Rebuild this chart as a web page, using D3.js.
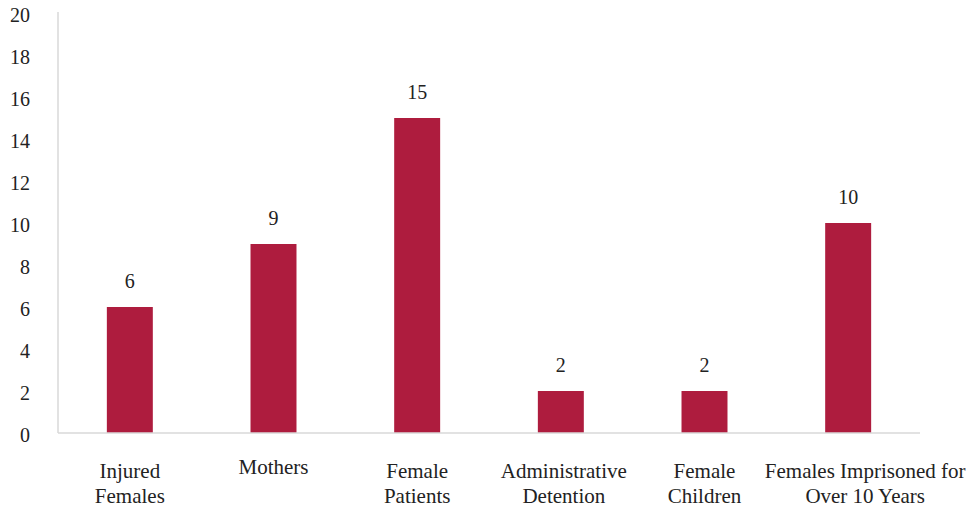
<!DOCTYPE html>
<html>
<head>
<meta charset="utf-8">
<script src="https://cdn.jsdelivr.net/npm/d3@7"></script>
<style>
  body { margin: 0; background: #fff; }
</style>
</head>
<body>
<svg id="chart" width="972" height="508"></svg>
<script>
// data
var categories = [
  ["Injured", "Females"],
  ["Mothers"],
  ["Female", "Patients"],
  ["Administrative", "Detention"],
  ["Female", "Children"],
  ["Females Imprisoned for", "Over 10 Years"]
];
var values = [6, 9, 15, 2, 2, 10];
var yTicks = [0, 2, 4, 6, 8, 10, 12, 14, 16, 18, 20];

var serif = "'Liberation Serif', 'Times New Roman', Times, 'DejaVu Serif', serif";

var svg = d3.select("#chart"),
    plotLeft = 58,
    plotRight = 920,
    plotTop = 13,
    plotBottom = 433;

var xScale = d3.scaleBand()
    .domain(d3.range(values.length))
    .range([plotLeft, plotRight])
    .paddingInner(0.68)
    .paddingOuter(0.34);

var yScale = d3.scaleLinear()
    .domain([0, 20])
    .range([plotBottom, plotTop]);

// y axis: labels only plus the grey line
var yAxis = svg.append("g")
    .attr("transform", "translate(" + plotLeft + ",0)")
    .call(d3.axisLeft(yScale).tickValues(yTicks).tickSize(0).tickPadding(28));
yAxis.select(".domain").remove();
yAxis.attr("font-family", serif).attr("font-size", 20);
yAxis.selectAll("text")
    .style("font-family", serif)
    .style("font-size", "20px")
    .style("fill", "#222")
    .attr("dy", "0.4em");

svg.append("line")
    .attr("x1", plotLeft).attr("x2", plotLeft)
    .attr("y1", plotTop - 1).attr("y2", plotBottom)
    .style("stroke", "#d9d9d9")
    .style("stroke-width", 1.5);

// bars
svg.append("g")
    .selectAll("rect")
    .data(values)
    .enter()
    .append("rect")
    .attr("x", function(d, i) { return xScale(i); })
    .attr("y", function(d) { return yScale(d); })
    .attr("width", xScale.bandwidth())
    .attr("height", function(d) { return yScale(0) - yScale(d); })
    .style("fill", "#ae1c3e");

// x axis line
svg.append("line")
    .attr("x1", plotLeft).attr("x2", plotRight)
    .attr("y1", plotBottom).attr("y2", plotBottom)
    .style("stroke", "#d9d9d9")
    .style("stroke-width", 1.5);

// value labels
svg.append("g")
    .selectAll("text")
    .data(values)
    .enter()
    .append("text")
    .attr("x", function(d, i) { return xScale(i) + xScale.bandwidth() / 2; })
    .attr("y", function(d) { return yScale(d) - 19; })
    .attr("text-anchor", "middle")
    .style("font-family", serif)
    .style("font-size", "20px")
    .style("fill", "#222")
    .text(function(d) { return d; });

// category labels (the last one sits a bit to the right, like the original)
var cats = svg.append("g")
    .selectAll("text")
    .data(categories)
    .enter()
    .append("text")
    .attr("text-anchor", "middle")
    .style("font-family", serif)
    .style("font-size", "21px")
    .style("fill", "#222")
    .attr("transform", function(d, i) {
        var cx = xScale(i) + xScale.bandwidth() / 2;
        if (i == categories.length - 1) cx += 17;
        if (i == 3) cx += 3;
        var y = d.length == 1 ? 474 : 478;
        return "translate(" + cx + "," + y + ")";
    });

cats.selectAll("tspan")
    .data(function(d) { return d; })
    .enter()
    .append("tspan")
    .attr("x", 0)
    .attr("dy", function(d, i) { return i == 0 ? 0 : 25; })
    .text(function(d) { return d; });
</script>
</body>
</html>
